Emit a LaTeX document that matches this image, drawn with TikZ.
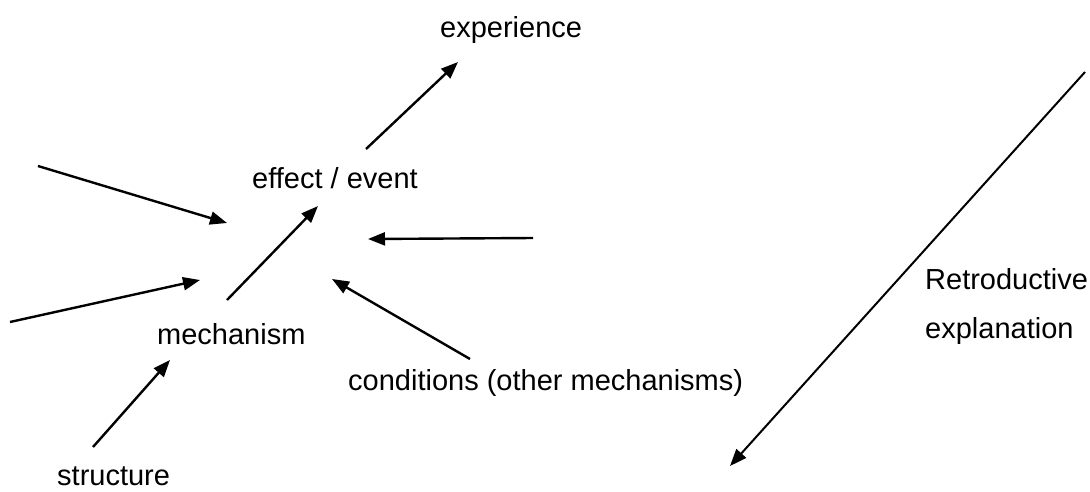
\documentclass[tikz,border=0pt]{standalone}
\usepackage{fontspec}
\setmainfont{Liberation Sans}
\usetikzlibrary{arrows.meta}
\begin{document}
\begin{tikzpicture}[x=1pt,y=-1pt,
  lbl/.style={anchor=base west,inner sep=0pt,font=\fontsize{29}{34}\selectfont},
  arr/.style={line width=2.4pt,-{Triangle[length=17pt,width=13pt]}},
  bigarr/.style={line width=2pt,-{Triangle[length=17pt,width=13pt]}}]
\useasboundingbox[fill=white] (0,0) rectangle (1090,491);
% labels
\node[lbl] (exp) at (440,37) {experience};
\node[lbl] (eff) at (252,188) {effect / event};
\node[lbl] (mech) at (157,344) {mechanism};
\node[lbl] (cond) at (348,390) {conditions (other mechanisms)};
\node[lbl] (str) at (57,485) {structure};
\node[lbl] (retro) at (925,289) {Retroductive};
\node[lbl] (expl) at (925,338) {explanation};
% connector ends
\coordinate (effOut) at (366,149);
\coordinate (expIn) at (458,62);
\coordinate (a1) at (38,166);
\coordinate (a1t) at (227,223);
\coordinate (a2) at (10,322);
\coordinate (a2t) at (200,280);
\coordinate (mOut) at (227,300);
\coordinate (eIn) at (318,206);
\coordinate (r1) at (533,238);
\coordinate (r1t) at (368,239);
\coordinate (cOut) at (470,359);
\coordinate (cIn) at (332,279);
\coordinate (sOut) at (93,447);
\coordinate (mIn) at (170,360);
\coordinate (bTop) at (1085,72);
\coordinate (bTip) at (730,466);
% connectors
\draw[arr] (effOut) -- (expIn);
\draw[arr] (a1) -- (a1t);
\draw[arr] (a2) -- (a2t);
\draw[arr] (mOut) -- (eIn);
\draw[arr] (r1) -- (r1t);
\draw[arr] (cOut) -- (cIn);
\draw[arr] (sOut) -- (mIn);
\draw[bigarr] (bTop) -- (bTip);
\end{tikzpicture}
\end{document}
